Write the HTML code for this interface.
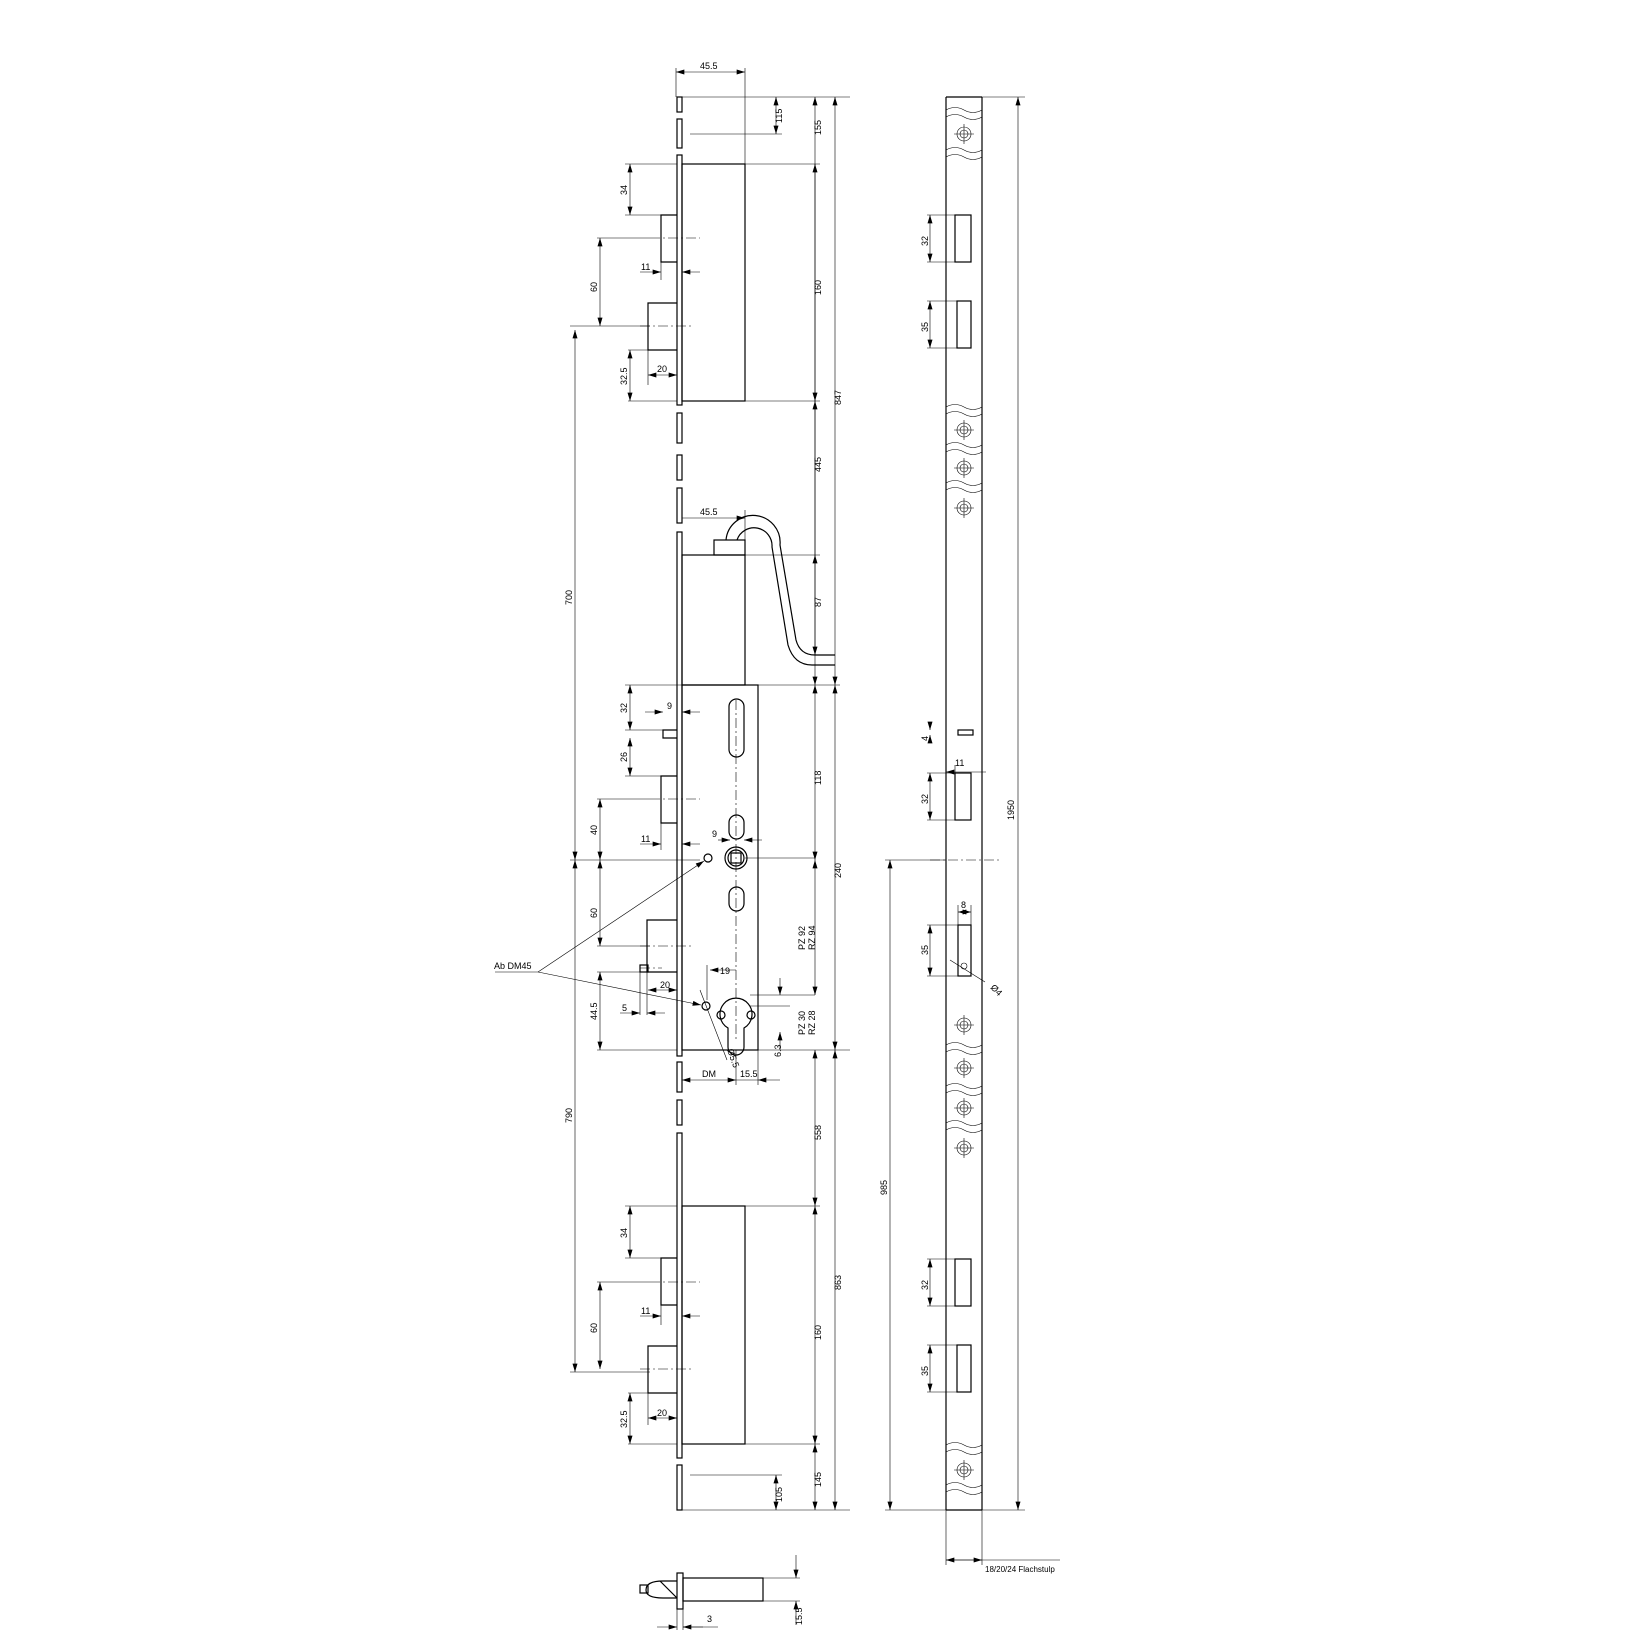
<!DOCTYPE html>
<html><head><meta charset="utf-8"><style>
html,body{margin:0;padding:0;background:#fff}
svg{display:block}
text{font-family:"Liberation Sans",sans-serif;font-size:9px;fill:#000}
.l{stroke:#000;stroke-width:1.2;fill:none}
.t{stroke:#000;stroke-width:0.6;fill:none}
.g{stroke:#999;stroke-width:1;fill:none}
.c{stroke:#000;stroke-width:0.6;fill:none;stroke-dasharray:10 3 2 3}
</style></head><body>
<svg width="1651" height="1651" viewBox="0 0 1651 1651" xmlns="http://www.w3.org/2000/svg">
<defs>
<marker id="a" viewBox="0 0 10 6" refX="10" refY="3" markerWidth="9" markerHeight="5" orient="auto-start-reverse" markerUnits="userSpaceOnUse"><path d="M0,0L10,3L0,6z" fill="#000"/></marker>
<g id="sc"><circle cx="0" cy="0" r="7"/><circle cx="0" cy="0" r="4"/><line x1="-10" y1="0" x2="10" y2="0"/><line x1="0" y1="-10" x2="0" y2="10"/></g>
</defs>

<g class="l">
<rect x="677" y="97" width="5" height="15"/>
<rect x="677" y="119" width="5" height="29"/>
<rect x="677" y="155" width="5" height="250"/>
<rect x="677" y="413" width="5" height="30"/>
<rect x="677" y="455" width="5" height="25"/>
<rect x="677" y="488" width="5" height="35"/>
<rect x="677" y="532" width="5" height="524"/>
<rect x="677" y="1062" width="5" height="30"/>
<rect x="677" y="1100" width="5" height="25"/>
<rect x="677" y="1133" width="5" height="325"/>
<rect x="677" y="1465" width="5" height="45"/>
<rect x="682" y="164" width="63" height="237"/>
<path d="M677,215 H661 V262 H677"/>
<path d="M677,303 H648 V350 H677"/>
<rect x="682" y="555" width="63" height="130"/>
<rect x="714" y="540" width="31" height="15"/>
<path d="M726,540 A27,27 0 0 1 780,545 L796,640 Q800,655 815,655 H835"/>
<path d="M737,540 A18,18 0 0 1 772,547 L788,645 Q794,665 812,665 H835"/>
<rect x="682" y="685" width="76" height="365"/>
<path d="M677,730 H663 V738 H677"/>
<path d="M677,776 H661 V823 H677"/>
<path d="M677,920 H647 V972 H677"/>
<rect x="640" y="965" width="8" height="7"/>
<rect x="729" y="699" width="15" height="58" rx="7.5"/>
<rect x="729" y="815" width="15" height="24" rx="7.5"/>
<rect x="729" y="887" width="15" height="24" rx="7.5"/>
<circle cx="736" cy="858" r="11"/><circle cx="736" cy="858" r="8"/>
<rect x="731" y="853" width="10" height="10"/>
<circle cx="708" cy="858" r="4"/>
<circle cx="706" cy="1006" r="4"/>
<path d="M728,1028 A16,16 0 1 1 744,1028 V1047 A8,8 0 0 1 728,1047 Z"/>
<circle cx="721" cy="1015" r="4"/><circle cx="751" cy="1015" r="4"/>
<rect x="682" y="1206" width="63" height="238"/>
<path d="M677,1258 H661 V1305 H677"/>
<path d="M677,1346 H648 V1393 H677"/>
</g>
<g class="c">
<line x1="736" y1="700" x2="736" y2="1040"/>
<line x1="650" y1="238" x2="700" y2="238"/>
<line x1="640" y1="326" x2="692" y2="326"/>
<line x1="650" y1="799" x2="700" y2="799"/>
<line x1="640" y1="946" x2="692" y2="946"/>
<line x1="650" y1="1282" x2="700" y2="1282"/>
<line x1="640" y1="1369" x2="692" y2="1369"/>
<line x1="640" y1="968" x2="662" y2="968"/>
<line x1="930" y1="860" x2="1000" y2="860"/>
</g>

<g class="t">
<line x1="676" y1="68" x2="676" y2="97"/><line x1="745" y1="68" x2="745" y2="164"/>
<line x1="676" y1="72" x2="745" y2="72" marker-start="url(#a)" marker-end="url(#a)"/>
<line x1="682" y1="97" x2="850" y2="97"/>
<line x1="690" y1="134" x2="782" y2="134"/>
<line x1="776" y1="97" x2="776" y2="134" marker-start="url(#a)" marker-end="url(#a)"/>
<line x1="745" y1="164" x2="820" y2="164"/>
<line x1="745" y1="401" x2="820" y2="401"/>
<line x1="815" y1="97" x2="815" y2="655" marker-start="url(#a)" marker-end="url(#a)"/>
<line x1="815" y1="164" x2="815" y2="401" marker-start="url(#a)" marker-end="url(#a)"/>
<line x1="815" y1="401" x2="815" y2="555" marker-start="url(#a)"/>
<line x1="745" y1="555" x2="820" y2="555"/>
<line x1="815" y1="555" x2="815" y2="685" marker-start="url(#a)" marker-end="url(#a)"/>
<line x1="758" y1="685" x2="840" y2="685"/>
<line x1="815" y1="685" x2="815" y2="860" marker-start="url(#a)" marker-end="url(#a)"/>
<line x1="815" y1="860" x2="815" y2="995" marker-start="url(#a)" marker-end="url(#a)"/>
<line x1="815" y1="1050" x2="815" y2="1206" marker-start="url(#a)" marker-end="url(#a)"/>
<line x1="745" y1="1206" x2="820" y2="1206"/>
<line x1="815" y1="1206" x2="815" y2="1444" marker-start="url(#a)" marker-end="url(#a)"/>
<line x1="745" y1="1444" x2="820" y2="1444"/>
<line x1="815" y1="1444" x2="815" y2="1510" marker-start="url(#a)" marker-end="url(#a)"/>
<line x1="682" y1="1510" x2="850" y2="1510"/>
<line x1="690" y1="1475" x2="782" y2="1475"/>
<line x1="776" y1="1475" x2="776" y2="1510" marker-start="url(#a)" marker-end="url(#a)"/>
<line x1="758" y1="1050" x2="850" y2="1050"/>
<line x1="835" y1="97" x2="835" y2="685" marker-start="url(#a)" marker-end="url(#a)"/>
<line x1="835" y1="685" x2="835" y2="1050" marker-start="url(#a)" marker-end="url(#a)"/>
<line x1="835" y1="1050" x2="835" y2="1510" marker-start="url(#a)" marker-end="url(#a)"/>
<line x1="625" y1="164" x2="677" y2="164"/><line x1="625" y1="215" x2="661" y2="215"/>
<line x1="630" y1="164" x2="630" y2="215" marker-start="url(#a)" marker-end="url(#a)"/>
<line x1="597" y1="238" x2="650" y2="238"/>
<line x1="600" y1="238" x2="600" y2="326" marker-start="url(#a)" marker-end="url(#a)"/>
<line x1="570" y1="326" x2="650" y2="326"/>
<line x1="628" y1="350" x2="648" y2="350"/><line x1="628" y1="401" x2="677" y2="401"/>
<line x1="630" y1="350" x2="630" y2="401" marker-start="url(#a)" marker-end="url(#a)"/>
<line x1="648" y1="350" x2="648" y2="385"/>
<line x1="648" y1="375" x2="677" y2="375" marker-start="url(#a)" marker-end="url(#a)"/>
<line x1="661" y1="262" x2="661" y2="280"/>
<line x1="640" y1="272" x2="661" y2="272" marker-end="url(#a)"/>
<line x1="700" y1="272" x2="682" y2="272" marker-end="url(#a)"/>
<line x1="575" y1="330" x2="575" y2="860" marker-start="url(#a)" marker-end="url(#a)"/>
<line x1="575" y1="860" x2="575" y2="1372" marker-start="url(#a)" marker-end="url(#a)"/>
<line x1="570" y1="860" x2="700" y2="860"/>
<line x1="745" y1="858" x2="815" y2="858"/>
<line x1="625" y1="685" x2="682" y2="685"/><line x1="625" y1="730" x2="663" y2="730"/>
<line x1="630" y1="685" x2="630" y2="730" marker-start="url(#a)" marker-end="url(#a)"/>
<line x1="625" y1="776" x2="661" y2="776"/>
<line x1="630" y1="738" x2="630" y2="776" marker-start="url(#a)" marker-end="url(#a)"/>
<line x1="645" y1="712" x2="663" y2="712" marker-end="url(#a)"/>
<line x1="700" y1="712" x2="682" y2="712" marker-end="url(#a)"/>
<line x1="597" y1="799" x2="650" y2="799"/>
<line x1="600" y1="799" x2="600" y2="860" marker-start="url(#a)" marker-end="url(#a)"/>
<line x1="640" y1="844" x2="661" y2="844" marker-end="url(#a)"/>
<line x1="700" y1="844" x2="682" y2="844" marker-end="url(#a)"/>
<line x1="661" y1="823" x2="661" y2="850"/>
<line x1="600" y1="860" x2="600" y2="946" marker-start="url(#a)" marker-end="url(#a)"/>
<line x1="597" y1="946" x2="650" y2="946"/>
<line x1="597" y1="972" x2="640" y2="972"/><line x1="597" y1="1050" x2="677" y2="1050"/>
<line x1="600" y1="972" x2="600" y2="1050" marker-start="url(#a)" marker-end="url(#a)"/>
<line x1="647" y1="972" x2="647" y2="1015"/><line x1="640" y1="972" x2="640" y2="1015"/>
<line x1="648" y1="990" x2="677" y2="990" marker-start="url(#a)" marker-end="url(#a)"/>
<line x1="620" y1="1013" x2="640" y2="1013" marker-end="url(#a)"/>
<line x1="665" y1="1013" x2="647" y2="1013" marker-end="url(#a)"/>
<line x1="710" y1="970" x2="736" y2="970" marker-start="url(#a)"/>
<line x1="707" y1="965" x2="707" y2="1000"/>
<line x1="700" y1="990" x2="727" y2="1060"/>
<line x1="718" y1="840" x2="730" y2="840" marker-end="url(#a)"/>
<line x1="762" y1="840" x2="744" y2="840" marker-end="url(#a)"/>
<line x1="780" y1="978" x2="780" y2="995" marker-end="url(#a)"/>
<line x1="780" y1="1050" x2="780" y2="1032" marker-end="url(#a)"/>
<line x1="750" y1="995" x2="815" y2="995"/>
<line x1="750" y1="1006" x2="790" y2="1006"/>
<line x1="758" y1="1050" x2="758" y2="1085"/>
<line x1="736" y1="1050" x2="736" y2="1085"/>
<line x1="682" y1="1080" x2="736" y2="1080" marker-start="url(#a)" marker-end="url(#a)"/>
<line x1="736" y1="1080" x2="758" y2="1080"/>
<line x1="780" y1="1080" x2="758" y2="1080" marker-end="url(#a)"/>
<line x1="495" y1="972" x2="538" y2="972"/>
<line x1="538" y1="972" x2="704" y2="861" marker-end="url(#a)"/>
<line x1="538" y1="972" x2="701" y2="1005" marker-end="url(#a)"/>
<line x1="625" y1="1206" x2="677" y2="1206"/><line x1="625" y1="1258" x2="661" y2="1258"/>
<line x1="630" y1="1206" x2="630" y2="1258" marker-start="url(#a)" marker-end="url(#a)"/>
<line x1="597" y1="1282" x2="650" y2="1282"/>
<line x1="600" y1="1282" x2="600" y2="1369" marker-start="url(#a)" marker-end="url(#a)"/>
<line x1="570" y1="1372" x2="650" y2="1372"/>
<line x1="628" y1="1393" x2="648" y2="1393"/><line x1="628" y1="1444" x2="677" y2="1444"/>
<line x1="630" y1="1393" x2="630" y2="1444" marker-start="url(#a)" marker-end="url(#a)"/>
<line x1="648" y1="1393" x2="648" y2="1425"/>
<line x1="648" y1="1418" x2="677" y2="1418" marker-start="url(#a)" marker-end="url(#a)"/>
<line x1="661" y1="1305" x2="661" y2="1325"/>
<line x1="640" y1="1316" x2="661" y2="1316" marker-end="url(#a)"/>
<line x1="700" y1="1316" x2="682" y2="1316" marker-end="url(#a)"/>
<line x1="682" y1="518" x2="745" y2="518" marker-end="url(#a)"/>
<line x1="745" y1="510" x2="745" y2="555"/>
</g>

<g>
<text x="700" y="69">45.5</text>
<text x="700" y="515">45.5</text>
<text transform="translate(782,123) rotate(-90)">115</text>
<text transform="translate(821,135) rotate(-90)">155</text>
<text transform="translate(821,295) rotate(-90)">160</text>
<text transform="translate(821,472) rotate(-90)">445</text>
<text transform="translate(821,607) rotate(-90)">87</text>
<text transform="translate(821,785) rotate(-90)">118</text>
<text transform="translate(841,405) rotate(-90)">847</text>
<text transform="translate(841,878) rotate(-90)">240</text>
<text transform="translate(841,1290) rotate(-90)">863</text>
<text transform="translate(821,1140) rotate(-90)">558</text>
<text transform="translate(821,1340) rotate(-90)">160</text>
<text transform="translate(821,1487) rotate(-90)">145</text>
<text transform="translate(782,1502) rotate(-90)">105</text>
<text transform="translate(805,950) rotate(-90)">PZ 92</text>
<text transform="translate(815,950) rotate(-90)">RZ 94</text>
<text transform="translate(805,1035) rotate(-90)">PZ 30</text>
<text transform="translate(815,1035) rotate(-90)">RZ 28</text>
<text transform="translate(781,1057) rotate(-90)">6.3</text>
<text x="702" y="1077">DM</text><text x="740" y="1077">15.5</text>
<text transform="translate(727,1050) rotate(70)">Ø5.5</text>
<text x="720" y="974">19</text>
<text x="712" y="837">9</text>
<text transform="translate(627,195) rotate(-90)">34</text>
<text transform="translate(597,292) rotate(-90)">60</text>
<text transform="translate(627,385) rotate(-90)">32.5</text>
<text x="641" y="270">11</text><text x="657" y="372">20</text>
<text transform="translate(572,605) rotate(-90)">700</text>
<text transform="translate(572,1123) rotate(-90)">790</text>
<text transform="translate(627,713) rotate(-90)">32</text>
<text transform="translate(627,762) rotate(-90)">26</text>
<text x="667" y="709">9</text>
<text transform="translate(597,835) rotate(-90)">40</text>
<text x="641" y="842">11</text>
<text transform="translate(597,918) rotate(-90)">60</text>
<text transform="translate(597,1020) rotate(-90)">44.5</text>
<text x="660" y="988">20</text><text x="622" y="1011">5</text>
<text x="494" y="969">Ab DM45</text>
<text transform="translate(627,1238) rotate(-90)">34</text>
<text transform="translate(597,1333) rotate(-90)">60</text>
<text transform="translate(627,1428) rotate(-90)">32.5</text>
<text x="641" y="1314">11</text><text x="657" y="1416">20</text>
</g>

<g class="l">
<path d="M946,97 H982 M946,97 V1510 M982,97 V1510 M946,1510 H982"/>
</g>
<g class="t">
<path d="M946,110 q9,-5 18,0 t18,0 M946,117 q9,-5 18,0 t18,0"/>
<path d="M946,150 q9,-5 18,0 t18,0 M946,157 q9,-5 18,0 t18,0"/>
<path d="M946,407 q9,-5 18,0 t18,0 M946,414 q9,-5 18,0 t18,0"/>
<path d="M946,445 q9,-5 18,0 t18,0 M946,452 q9,-5 18,0 t18,0"/>
<path d="M946,483 q9,-5 18,0 t18,0 M946,490 q9,-5 18,0 t18,0"/>
<path d="M946,1045 q9,-5 18,0 t18,0 M946,1052 q9,-5 18,0 t18,0"/>
<path d="M946,1086 q9,-5 18,0 t18,0 M946,1093 q9,-5 18,0 t18,0"/>
<path d="M946,1123 q9,-5 18,0 t18,0 M946,1130 q9,-5 18,0 t18,0"/>
<path d="M946,1445 q9,-5 18,0 t18,0 M946,1452 q9,-5 18,0 t18,0"/>
<path d="M946,1485 q9,-5 18,0 t18,0 M946,1492 q9,-5 18,0 t18,0"/>
</g>
<g class="t">
<use href="#sc" x="964" y="134"/><use href="#sc" x="964" y="430"/><use href="#sc" x="964" y="468"/><use href="#sc" x="964" y="508"/>
<use href="#sc" x="964" y="1025"/><use href="#sc" x="964" y="1068"/><use href="#sc" x="964" y="1108"/><use href="#sc" x="964" y="1148"/><use href="#sc" x="964" y="1470"/>
</g>
<g class="l">
<rect x="955" y="215" width="16" height="47"/>
<rect x="957" y="301" width="14" height="47"/>
<rect x="955" y="773" width="16" height="47"/>
<rect x="958" y="730" width="15" height="5"/>
<rect x="958" y="925" width="13" height="51"/>
<rect x="955" y="1259" width="16" height="47"/>
<rect x="957" y="1345" width="14" height="47"/>
</g>
<g class="t">
<line x1="965" y1="97" x2="1025" y2="97"/>
<line x1="1018" y1="97" x2="1018" y2="1510" marker-start="url(#a)" marker-end="url(#a)"/>
<line x1="982" y1="1510" x2="1025" y2="1510"/>
<line x1="885" y1="860" x2="946" y2="860"/>
<line x1="890" y1="860" x2="890" y2="1510" marker-start="url(#a)" marker-end="url(#a)"/>
<line x1="885" y1="1510" x2="946" y2="1510"/>
<line x1="927" y1="215" x2="955" y2="215"/><line x1="927" y1="262" x2="955" y2="262"/>
<line x1="930" y1="215" x2="930" y2="262" marker-start="url(#a)" marker-end="url(#a)"/>
<line x1="927" y1="301" x2="957" y2="301"/><line x1="927" y1="348" x2="957" y2="348"/>
<line x1="930" y1="301" x2="930" y2="348" marker-start="url(#a)" marker-end="url(#a)"/>
<line x1="927" y1="773" x2="955" y2="773"/><line x1="927" y1="820" x2="955" y2="820"/>
<line x1="930" y1="773" x2="930" y2="820" marker-start="url(#a)" marker-end="url(#a)"/>
<line x1="927" y1="925" x2="958" y2="925"/><line x1="927" y1="976" x2="958" y2="976"/>
<line x1="930" y1="925" x2="930" y2="976" marker-start="url(#a)" marker-end="url(#a)"/>
<line x1="927" y1="1259" x2="955" y2="1259"/><line x1="927" y1="1306" x2="955" y2="1306"/>
<line x1="930" y1="1259" x2="930" y2="1306" marker-start="url(#a)" marker-end="url(#a)"/>
<line x1="927" y1="1345" x2="957" y2="1345"/><line x1="927" y1="1392" x2="957" y2="1392"/>
<line x1="930" y1="1345" x2="930" y2="1392" marker-start="url(#a)" marker-end="url(#a)"/>
<line x1="930" y1="722" x2="930" y2="730" marker-end="url(#a)"/>
<line x1="930" y1="743" x2="930" y2="735" marker-end="url(#a)"/>
<line x1="946" y1="772" x2="986" y2="772" marker-start="url(#a)"/>
<line x1="955" y1="765" x2="955" y2="773"/>
<line x1="958" y1="912" x2="971" y2="912" marker-start="url(#a)" marker-end="url(#a)"/>
<line x1="958" y1="905" x2="958" y2="925"/><line x1="971" y1="905" x2="971" y2="925"/>
<line x1="950" y1="960" x2="985" y2="982"/>
<circle cx="964" cy="966" r="3"/>
<line x1="946" y1="1560" x2="1060" y2="1560"/>
<line x1="946" y1="1560" x2="982" y2="1560" marker-start="url(#a)" marker-end="url(#a)"/>
<line x1="946" y1="1510" x2="946" y2="1565"/><line x1="982" y1="1510" x2="982" y2="1565"/>
</g>
<g>
<text transform="translate(928,246) rotate(-90)">32</text>
<text transform="translate(928,332) rotate(-90)">35</text>
<text transform="translate(928,741) rotate(-90)">4</text>
<text x="955" y="766">11</text>
<text transform="translate(928,804) rotate(-90)">32</text>
<text x="961" y="908">8</text>
<text transform="translate(928,955) rotate(-90)">35</text>
<text transform="translate(990,988) rotate(45)">Ø4</text>
<text transform="translate(928,1290) rotate(-90)">32</text>
<text transform="translate(928,1376) rotate(-90)">35</text>
<text transform="translate(1014,820) rotate(-90)">1950</text>
<text transform="translate(887,1195) rotate(-90)">985</text>
<text x="985" y="1572" style="font-size:8px">18/20/24 Flachstulp</text>
</g>

<g class="l">
<rect x="677" y="1573" width="6" height="36"/>
<rect x="683" y="1578" width="80" height="23"/>
<path d="M677,1581 H663 Q646,1581 646,1590 Q646,1598 663,1598 H677"/>
<path d="M660,1581 L677,1598"/>
<rect x="640" y="1585" width="8" height="8"/>
</g>
<g class="t">
<line x1="763" y1="1578" x2="800" y2="1578"/><line x1="763" y1="1601" x2="800" y2="1601"/>
<line x1="796" y1="1555" x2="796" y2="1578" marker-end="url(#a)"/>
<line x1="796" y1="1625" x2="796" y2="1601" marker-end="url(#a)"/>
<line x1="677" y1="1609" x2="677" y2="1630"/><line x1="683" y1="1609" x2="683" y2="1630"/>
<line x1="657" y1="1627" x2="677" y2="1627" marker-end="url(#a)"/>
<line x1="703" y1="1627" x2="683" y2="1627" marker-end="url(#a)"/>
<line x1="683" y1="1627" x2="718" y2="1627"/>
</g>
<text x="707" y="1622">3</text>
<text transform="translate(802,1625) rotate(-90)">15.5</text>
</svg>
</body></html>
